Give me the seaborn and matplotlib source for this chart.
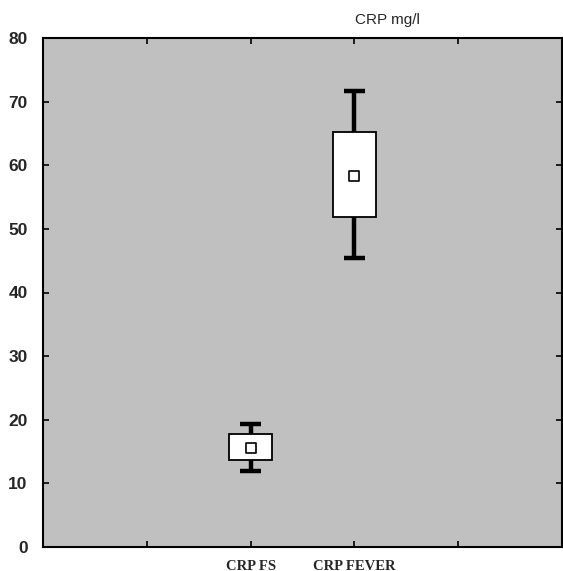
import matplotlib
matplotlib.use("Agg")
import matplotlib.pyplot as plt
import seaborn as sns
import pandas as pd

# Data
categories = ["CRP FS", "CRP FEVER"]
positions = [2, 3]
means = [15.6, 58.3]
box_low = [13.7, 51.9]
box_high = [17.8, 65.2]
whisker_low = [11.9, 45.4]
whisker_high = [19.3, 71.6]
y_ticks = [0, 10, 20, 30, 40, 50, 60, 70, 80]
x_ticks = [1, 2, 3, 4]
x_tick_labels = ["", "CRP FS", "CRP FEVER", ""]
title = "CRP mg/l"

sns.set_style("white")
plt.rcParams["font.family"] = ["Liberation Sans", "DejaVu Sans"]

fig = plt.figure(figsize=(5.63, 5.71), dpi=100)
ax = fig.add_axes([43 / 563, 24 / 571, 519 / 563, 509 / 571])
ax.set_facecolor("#c0c0c0")

stats = []
for i, c in enumerate(categories):
    stats.append(dict(label=c, med=means[i], q1=box_low[i], q3=box_high[i],
                      whislo=whisker_low[i], whishi=whisker_high[i], fliers=[]))

ax.bxp(stats, positions=positions, widths=0.41, showfliers=False,
       patch_artist=True, manage_ticks=False,
       boxprops=dict(facecolor="white", edgecolor="black", linewidth=1.3),
       whiskerprops=dict(color="black", linewidth=3.2, solid_capstyle="butt"),
       capprops=dict(color="black", linewidth=3.2, solid_capstyle="butt"),
       capwidths=0.21,
       medianprops=dict(linewidth=0, color="white"))

df = pd.DataFrame({"pos": positions, "mean": means})
sns.scatterplot(data=df, x="pos", y="mean", marker="s", s=50,
                facecolor="white", edgecolor="black", linewidth=1.2,
                ax=ax, zorder=5, legend=False)

ax.set_xlim(0, 5)
ax.set_ylim(0, 80)
ax.set_xticks(x_ticks)
ax.set_xticklabels(x_tick_labels, fontfamily="Liberation Serif",
                   fontweight="bold", fontsize=10.5)
ax.set_yticks(y_ticks)
ax.set_yticklabels([str(v) for v in y_ticks], fontweight="bold", fontsize=12.5)
ax.set_xlabel("")
ax.set_ylabel("")
ax.tick_params(axis="both", direction="in", length=4, width=1.2,
               top=True, right=True, bottom=True, left=True, color="black")
ax.tick_params(axis="y", pad=11)
ax.tick_params(axis="x", pad=9)
for s in ax.spines.values():
    s.set_visible(True)
    s.set_color("black")
    s.set_linewidth(1.5)

fig.text(387 / 563, 1 - 20 / 571, title, ha="center", va="center", fontsize=11)

fig.savefig("out.png", dpi=100)
